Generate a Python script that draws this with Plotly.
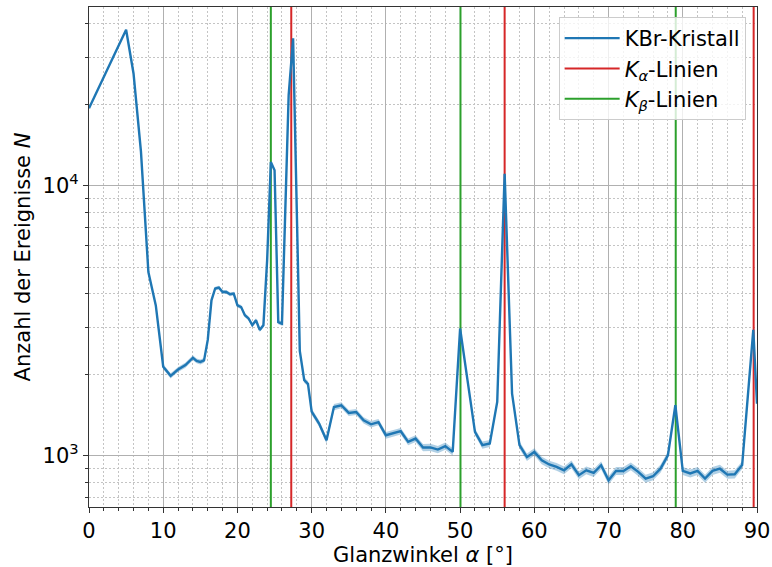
import numpy as np
import plotly.graph_objects as go

# Messwerte: Glanzwinkel in Grad, Zaehlrate N
winkel = [0, 5, 6, 7, 8, 9, 10, 11, 12, 13, 14, 14.5, 15, 15.5, 16, 16.5, 17, 17.5,
          18, 18.5, 19, 19.5, 20, 20.5, 21, 21.5, 22, 22.5, 23, 23.5, 24, 24.5, 25,
          25.5, 26, 26.9, 27.5, 28.4, 29, 29.5, 30, 31, 32, 33, 34, 35, 36, 37, 38,
          39, 40, 41, 42, 43, 44, 45, 46, 47, 48, 49, 50, 51, 52, 53, 54, 55, 56, 57,
          58, 59, 60, 61, 62, 63, 64, 65, 66, 67, 68, 69, 70, 71, 72, 73, 74, 75, 76,
          77, 78, 79, 80, 81, 82, 83, 84, 85, 86, 87, 88, 89.5, 90]
anzahl = [19400, 37900, 26100, 13400, 4800, 3610, 2140, 1980, 2090, 2170, 2310, 2250,
          2230, 2260, 2690, 3770, 4170, 4200, 4050, 4050, 3970, 3990, 3610, 3560, 3320,
          3230, 3050, 3180, 2930, 3050, 5300, 12270, 11430, 3130, 3090, 21700, 35200,
          2450, 1910, 1850, 1460, 1318, 1143, 1517, 1541, 1443, 1455, 1355, 1310, 1335,
          1193, 1210, 1235, 1128, 1160, 1074, 1076, 1056, 1088, 1035, 2965, 1905, 1228,
          1097, 1112, 1585, 11100, 1702, 1097, 990, 1035, 963, 930, 911, 885, 931, 849,
          885, 865, 924, 813, 880, 880, 916, 873, 824, 841, 897, 1006, 1541, 880, 861,
          880, 824, 880, 897, 853, 855, 925, 2930, 1560]

k_alpha = [27.25, 56.0, 89.55]
k_beta = [24.5, 50.05, 79.05]

n = np.array(anzahl, dtype=float)
fehler = np.sqrt(n)

font = "DejaVu Sans"
fs = 21
blau = "#1f77b4"
rot = "#d62728"
gruen = "#2ca02c"


def senkrecht(xs):
    xx, yy = [], []
    for v in xs:
        xx += [v, v, None]
        yy += [100, 1e6, None]
    return xx, yy


fig = go.Figure()

xa, ya = senkrecht(k_alpha)
fig.add_trace(go.Scatter(x=xa, y=ya, mode="lines", line=dict(color=rot, width=2),
                         name="<i>K</i><sub><i>α</i></sub>-Linien", legendrank=2))
xb, yb = senkrecht(k_beta)
fig.add_trace(go.Scatter(x=xb, y=yb, mode="lines", line=dict(color=gruen, width=2),
                         name="<i>K</i><sub><i>β</i></sub>-Linien", legendrank=3))

# Fehlerband (Poisson)
fig.add_trace(go.Scatter(x=winkel, y=n + fehler, mode="lines", line=dict(width=0),
                         showlegend=False, hoverinfo="skip"))
fig.add_trace(go.Scatter(x=winkel, y=n - fehler, mode="lines", line=dict(width=0),
                         fill="tonexty", fillcolor="rgba(31,119,180,0.35)",
                         showlegend=False, hoverinfo="skip"))
fig.add_trace(go.Scatter(x=winkel, y=anzahl, mode="lines", line=dict(color=blau, width=2.4),
                         name="KBr-Kristall", legendrank=1))

minor_y = [k * 10 ** e for e in (2, 3, 4) for k in range(2, 10)]

fig.update_xaxes(
    range=[0, 90], tickvals=list(range(0, 91, 10)), automargin=False,
    showline=True, linecolor="#333333", linewidth=1.3, mirror=True,
    ticks="outside", ticklen=5, tickwidth=1.2, tickcolor="#333333",
    showgrid=True, gridcolor="#b0b0b0", gridwidth=1,
    minor=dict(dtick=2, tick0=0, showgrid=True, gridcolor="#c4c4c4", griddash="1.5px,2.5px",
               gridwidth=1, ticks="outside", ticklen=3, tickcolor="#333333"),
    tickfont=dict(family=font, size=fs, color="#000000"),
    title=dict(text="Glanzwinkel <i>α</i> [°]", font=dict(family=font, size=fs, color="#000000"),
               standoff=2),
    zeroline=False,
)
fig.update_yaxes(
    type="log", range=[np.log10(647), np.log10(46000)], automargin=False,
    tickvals=[1000, 10000], ticktext=["10<sup>3</sup>", "10<sup>4</sup>"],
    showline=True, linecolor="#333333", linewidth=1.3, mirror=True,
    ticks="outside", ticklen=5, tickwidth=1.2, tickcolor="#333333",
    showgrid=True, gridcolor="#b0b0b0", gridwidth=1,
    minor=dict(tickmode="array", tickvals=minor_y, showgrid=True, gridcolor="#c4c4c4",
               griddash="1.5px,2.5px", gridwidth=1, ticks="outside", ticklen=3,
               tickcolor="#333333"),
    tickfont=dict(family=font, size=fs, color="#000000"),
    title=dict(text="Anzahl der Ereignisse <i>N</i>", font=dict(family=font, size=fs, color="#000000"),
               standoff=6),
    zeroline=False,
)

fig.update_layout(
    width=772, height=567,
    margin=dict(l=88.5, r=14.5, t=6.7, b=60.3),
    plot_bgcolor="white", paper_bgcolor="white",
    font=dict(family=font, size=fs, color="#000000"),
    legend=dict(x=0.983, y=0.98, xanchor="right", yanchor="top", traceorder="normal",
                bgcolor="rgba(255,255,255,0.8)", bordercolor="#cccccc", borderwidth=1,
                font=dict(family=font, size=fs), itemwidth=55, tracegroupgap=0),
    showlegend=True,
)

# Seitenrand des Browsers entfernen, damit die Grafik bei (0,0) beginnt
fig.write_html("out.html", config={"displayModeBar": False},
               post_script="document.body.style.margin='0';")
